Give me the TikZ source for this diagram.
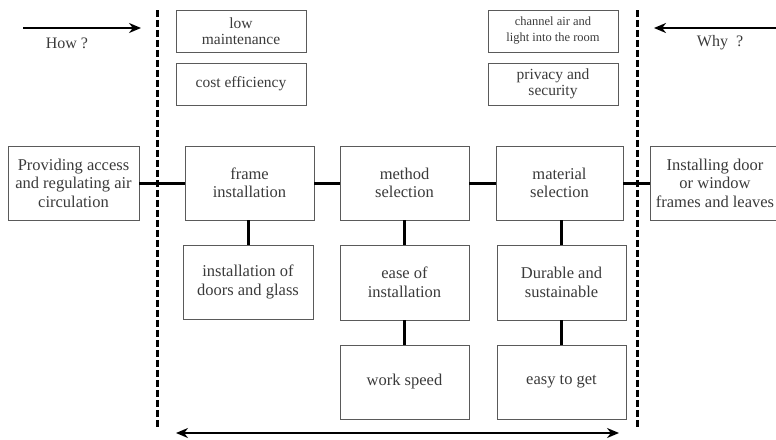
\documentclass[tikz,border=0pt]{standalone}
\usepackage{fontspec}
\setmainfont{Liberation Serif}
\usetikzlibrary{arrows.meta}
\definecolor{txt}{HTML}{3A3A3A}
\definecolor{edge}{HTML}{5A5A5A}
\tikzset{
  box/.style={draw=edge, line width=0.9pt, align=center, text=txt, inner sep=1pt,
    font=\fontsize{16.5}{18.5}\selectfont},
  smallbox/.style={box, minimum width=130pt, minimum height=42pt, font=\fontsize{15.5}{16.5}\selectfont},
  link/.style={line width=3pt, black},
  divider/.style={line width=3pt, black, dash pattern=on 7pt off 3pt},
  arr/.style={line width=2.6pt, black, -{Stealth[length=12pt,width=10pt]}},
  lbl/.style={text=txt, font=\fontsize{16}{18}\selectfont}
}
\begin{document}
\begin{tikzpicture}[x=1pt,y=-1pt]
\useasboundingbox (0,0) rectangle (776,439);
% top boxes
\node[smallbox] (low) at (241,31) {low\\maintenance};
\node[smallbox, font=\fontsize{12.5}{16}\selectfont] (chan) at (553,31) {channel air and\\light into the room};
\node[smallbox] (cost) at (241,84) {cost efficiency};
\node[smallbox] (priv) at (553,84) {privacy and\\security};
% main row
\node[box, minimum width=131pt, minimum height=74pt] (prov) at (73.5,183) {Providing access\\and regulating air\\circulation};
\node[box, minimum width=129pt, minimum height=74pt] (frame) at (249.5,183) {frame\\installation};
\node[box, minimum width=129pt, minimum height=74pt] (method) at (404.5,183) {method\\selection};
\node[box, minimum width=127pt, minimum height=74pt] (material) at (559.5,183) {material\\selection};
\node[box, minimum width=130pt, minimum height=74pt] (inst) at (715,183) {Installing door\\or window\\frames and leaves};
% second row
\node[box, minimum width=130pt, minimum height=74pt] (doors) at (248,282) {installation of\\doors and glass};
\node[box, minimum width=129pt, minimum height=75pt] (ease) at (404.5,282.5) {ease of\\installation};
\node[box, minimum width=129pt, minimum height=75pt] (dur) at (561.5,282.5) {Durable and\\sustainable};
% third row
\node[box, minimum width=129pt, minimum height=74pt] (work) at (404.5,382) {work speed};
\node[box, minimum width=129pt, minimum height=74pt] (easy) at (561.5,382) {easy to get};
% connectors
\draw[link] (prov) -- (frame);
\draw[link] (frame) -- (method);
\draw[link] (method) -- (material);
\draw[link] (material) -- (inst);
\draw[link] (doors.north) -- (doors.north |- frame.south);
\draw[link] (ease.north) -- (ease.north |- method.south);
\draw[link] (dur.north) -- (dur.north |- material.south);
\draw[link] (ease) -- (work);
\draw[link] (dur) -- (easy);
% dividers
\coordinate (dlt) at (157,10);
\coordinate (dlb) at (157,428);
\coordinate (drt) at (637,10);
\coordinate (drb) at (637,428);
\draw[divider] (dlt) -- (dlb);
\draw[divider] (drt) -- (drb);
% arrows
\coordinate (howa) at (23,28);
\coordinate (howb) at (141,28);
\coordinate (whya) at (776,28);
\coordinate (whyb) at (654,28);
\draw[arr] (howa) -- (howb);
\draw[arr] (whya) -- (whyb);
\node[lbl] (how) at (67,43) {How ?};
\node[lbl] (why) at (720,43) {Why\ \ ?};
\coordinate (ba) at (176,433);
\coordinate (bb) at (619,433);
\draw[arr, {Stealth[length=12pt,width=10pt]}-{Stealth[length=12pt,width=10pt]}] (ba) -- (bb);
\end{tikzpicture}
\end{document}
